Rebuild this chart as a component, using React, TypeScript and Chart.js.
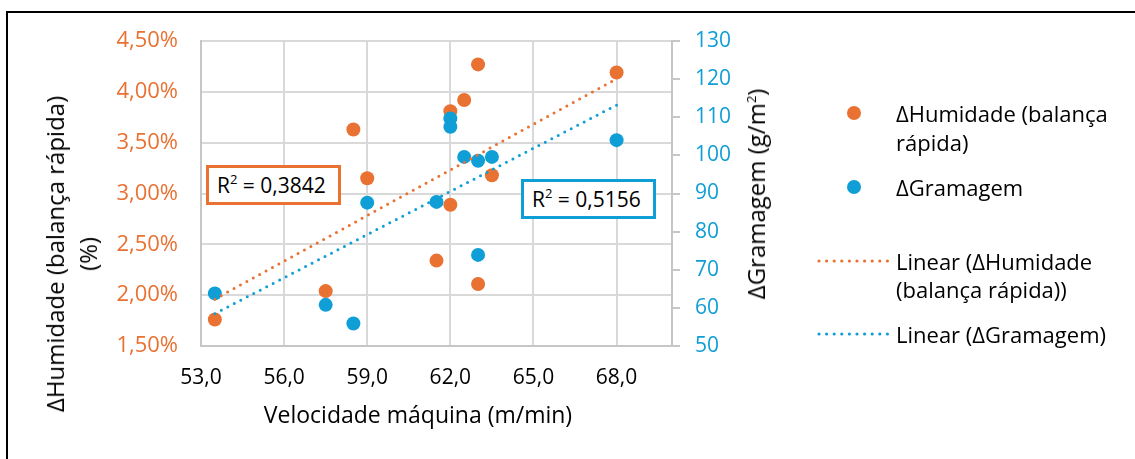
import React, { useEffect, useRef } from 'react';
import { Chart, registerables } from 'chart.js';

Chart.register(...registerables);

const ORANGE = '#E97132';
const BLUE = '#0F9ED5';
const GRID = '#d9d9d9';
const AXIS = '#c6c6c6';
const FONT = "'Open Sans', sans-serif";

// Data
const speed = [53.5, 57.5, 58.5, 59, 61.5, 62, 62, 62.5, 63, 63, 63.5, 68];
const humidity = [1.76, 2.04, 3.63, 3.15, 2.34, 3.81, 2.89, 3.92, 4.27, 2.11, 3.18, 4.19];
const grammage = [63.8, 60.8, 55.9, 87.6, 87.8, 109.7, 107.5, 99.6, 98.6, 73.9, 99.6, 104.0];

const xMin = 53;
const xMax = 70;
const xTickValues = [53, 56, 59, 62, 65, 68];
const xTickLabels = ['53,0', '56,0', '59,0', '62,0', '65,0', '68,0'];
const yTickValues = [1.5, 2.0, 2.5, 3.0, 3.5, 4.0, 4.5];
const yTickLabels = ['1,50%', '2,00%', '2,50%', '3,00%', '3,50%', '4,00%', '4,50%'];
const y1TickValues = [50, 60, 70, 80, 90, 100, 110, 120, 130];
const y1TickLabels = ['50', '60', '70', '80', '90', '100', '110', '120', '130'];

const r2Humidity = '0,3842';
const r2Grammage = '0,5156';

function linearFit(xs: number[], ys: number[]) {
  const n = xs.length;
  const mx = xs.reduce((a, b) => a + b, 0) / n;
  const my = ys.reduce((a, b) => a + b, 0) / n;
  let sxy = 0;
  let sxx = 0;
  for (let i = 0; i < n; i++) {
    sxy += (xs[i] - mx) * (ys[i] - my);
    sxx += (xs[i] - mx) * (xs[i] - mx);
  }
  const b = sxy / sxx;
  const a = my - b * mx;
  const x0 = Math.min(...xs);
  const x1 = Math.max(...xs);
  return [
    { x: x0, y: a + b * x0 },
    { x: x1, y: a + b * x1 },
  ];
}

const tickTo = (values: number[], labels: string[]) => (v: number | string) => {
  const idx = values.findIndex((t) => Math.abs(t - Number(v)) < 1e-9);
  return idx >= 0 && idx < labels.length ? labels[idx] : '';
};

export default function App() {
  const canvasRef = useRef<HTMLCanvasElement | null>(null);

  useEffect(() => {
    const canvas = canvasRef.current;
    if (!canvas) return;
    const chart = new Chart(canvas, {
      type: 'scatter',
      data: {
        datasets: [
          {
            label: 'ΔHumidade (balança rápida)',
            data: speed.map((x, i) => ({ x, y: humidity[i] })),
            yAxisID: 'y',
            backgroundColor: ORANGE,
            borderColor: ORANGE,
            pointRadius: 7,
            pointBorderWidth: 0,
            order: 4,
          },
          {
            label: 'ΔGramagem',
            data: speed.map((x, i) => ({ x, y: grammage[i] })),
            yAxisID: 'y1',
            backgroundColor: BLUE,
            borderColor: BLUE,
            pointRadius: 7,
            pointBorderWidth: 0,
            order: 3,
          },
          {
            type: 'line',
            label: 'Linear (ΔHumidade (balança rápida))',
            data: linearFit(speed, humidity),
            yAxisID: 'y',
            borderColor: ORANGE,
            borderWidth: 3,
            borderDash: [0, 7.3],
            borderCapStyle: 'round',
            pointRadius: 0,
            fill: false,
            order: 2,
          } as any,
          {
            type: 'line',
            label: 'Linear (ΔGramagem)',
            data: linearFit(speed, grammage),
            yAxisID: 'y1',
            borderColor: BLUE,
            borderWidth: 3,
            borderDash: [0, 7.3],
            borderCapStyle: 'round',
            pointRadius: 0,
            fill: false,
            order: 1,
          } as any,
        ],
      },
      options: {
        responsive: false,
        animation: false,
        layout: { padding: { left: 0, top: 41, right: 383, bottom: 53 } },
        plugins: { legend: { display: false }, tooltip: { enabled: false } },
        scales: {
          x: {
            type: 'linear',
            position: 'bottom',
            min: xMin,
            max: xMax,
            afterBuildTicks: (s: any) => {
              s.ticks = xTickValues.map((value) => ({ value }));
            },
            afterFit: (s: any) => {
              s.height = 60;
            },
            ticks: {
              callback: tickTo(xTickValues, xTickLabels),
              color: '#000',
              font: { family: FONT, size: 21 },
              padding: 19,
              maxRotation: 0,
              autoSkip: false,
            },
            grid: { color: GRID, lineWidth: 2, drawTicks: false },
            border: { color: AXIS, width: 2 },
          },
          y: {
            type: 'linear',
            position: 'left',
            min: 1.5,
            max: 4.5,
            afterBuildTicks: (s: any) => {
              s.ticks = yTickValues.map((value) => ({ value }));
            },
            afterFit: (s: any) => {
              s.width = 201;
            },
            ticks: {
              callback: tickTo(yTickValues, yTickLabels),
              color: ORANGE,
              font: { family: FONT, size: 22 },
              padding: 23,
              autoSkip: false,
            },
            grid: { color: GRID, lineWidth: 2, drawTicks: false },
            border: { color: AXIS, width: 2 },
          },
          y1: {
            type: 'linear',
            position: 'right',
            min: 50,
            max: 130,
            afterBuildTicks: (s: any) => {
              s.ticks = y1TickValues.map((value) => ({ value }));
            },
            afterFit: (s: any) => {
              s.width = 80;
            },
            ticks: {
              callback: tickTo(y1TickValues, y1TickLabels),
              color: BLUE,
              font: { family: FONT, size: 21 },
              padding: 15,
              autoSkip: false,
            },
            grid: { drawOnChartArea: false, color: AXIS, lineWidth: 2, tickLength: 8 },
            border: { color: AXIS, width: 2 },
          },
        },
      },
    });
    return () => chart.destroy();
  }, []);

  const text: React.CSSProperties = { position: 'absolute', whiteSpace: 'nowrap', color: '#000', fontFamily: FONT };
  const legendLine = (top: number, content: string) => (
    <div style={{ ...text, left: 896, top: top - 15, height: 30, lineHeight: '30px', fontSize: 22 }}>{content}</div>
  );
  const dotted = (y: number, color: string) => (
    <svg style={{ position: 'absolute', left: 816, top: y - 4 }} width={76} height={8}>
      <line x1={3} y1={4} x2={72} y2={4} stroke={color} strokeWidth={3.2} strokeLinecap="round" strokeDasharray="0 7.6" />
    </svg>
  );
  const sup = (
    <span style={{ fontSize: 13, position: 'relative', top: -9 }}>2</span>
  );

  return (
    <div style={{ position: 'fixed', left: 0, top: 0, width: 1135, height: 459, background: '#fff', overflow: 'hidden' }}>
      <div style={{ position: 'absolute', left: 6, top: 11, width: 1200, height: 600, borderTop: '2px solid #000', borderLeft: '2px solid #000' }} />
      <canvas ref={canvasRef} width={1135} height={459} style={{ position: 'absolute', left: 0, top: 0 }} />

      {/* Axis titles */}
      <div style={{ ...text, left: 71, top: 254, fontSize: 24, lineHeight: '33px', textAlign: 'center', transform: 'translate(-50%, -50%) rotate(-90deg)' }}>
        ΔHumidade (balança rápida)
        <br />
        (%)
      </div>
      <div style={{ ...text, left: 758, top: 194, fontSize: 24, lineHeight: '30px', transform: 'translate(-50%, -50%) rotate(-90deg)' }}>
        ΔGramagem (g/m{sup})
      </div>
      <div style={{ ...text, left: 418, top: 414, fontSize: 23, lineHeight: '30px', transform: 'translate(-50%, -50%)' }}>
        Velocidade máquina (m/min)
      </div>

      {/* R² labels */}
      <div style={{ ...text, left: 206, top: 165, width: 135, height: 40, boxSizing: 'border-box', border: `3px solid ${ORANGE}`, background: '#fff', fontSize: 21, lineHeight: '34px', paddingLeft: 8 }}>
        R{sup} = {r2Humidity}
      </div>
      <div style={{ ...text, left: 521, top: 179, width: 135, height: 40, boxSizing: 'border-box', border: `3px solid ${BLUE}`, background: '#fff', fontSize: 21, lineHeight: '34px', paddingLeft: 8 }}>
        R{sup} = {r2Grammage}
      </div>

      {/* Legend */}
      <div style={{ position: 'absolute', left: 847, top: 106, width: 14, height: 14, borderRadius: 7, background: ORANGE }} />
      {legendLine(113, 'ΔHumidade (balança')}
      {legendLine(142, 'rápida)')}
      <div style={{ position: 'absolute', left: 847, top: 180, width: 14, height: 14, borderRadius: 7, background: BLUE }} />
      {legendLine(187, 'ΔGramagem')}
      {dotted(261, ORANGE)}
      {legendLine(261, 'Linear (ΔHumidade')}
      {legendLine(289, '(balança rápida))')}
      {dotted(334, BLUE)}
      {legendLine(334, 'Linear (ΔGramagem)')}
    </div>
  );
}
